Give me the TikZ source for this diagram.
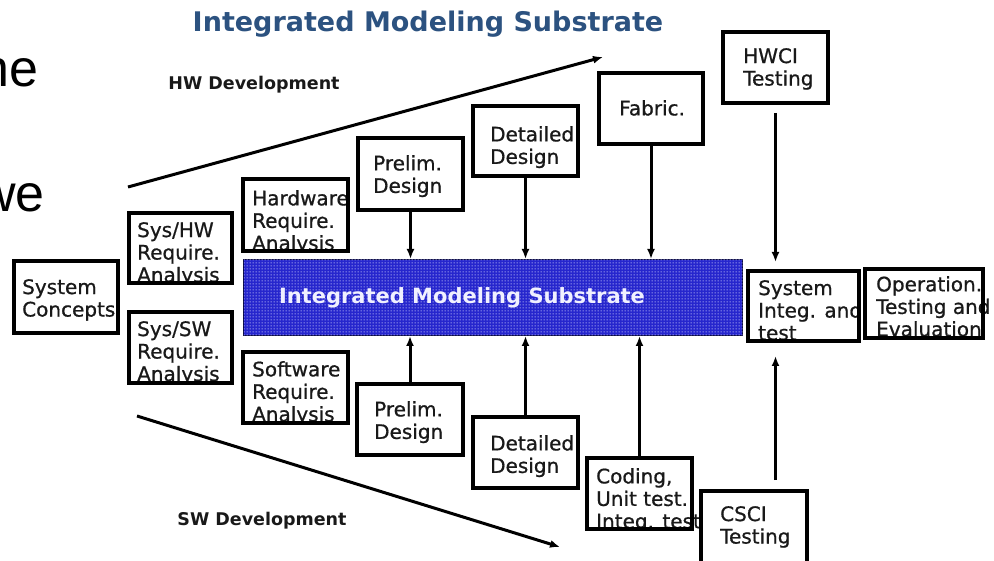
\documentclass[tikz,border=0pt]{standalone}
\usepackage{fontspec}
\setmainfont{DejaVu Sans}
\newfontfamily\slidefont{Liberation Sans}
\newfontfamily\boxfont[FakeBold=0.8]{DejaVu Sans}
\usetikzlibrary{arrows.meta,patterns,calc}

\definecolor{titleblue}{RGB}{44,82,128}
\definecolor{barblue}{RGB}{38,38,205}
\definecolor{bardot}{RGB}{215,215,255}
\definecolor{barline}{RGB}{10,10,70}
\definecolor{ink}{RGB}{25,25,25}

% screen of light dots over the substrate bar
\pgfdeclarepatternformonly{bardots}{\pgfpointorigin}{\pgfpoint{3pt}{3pt}}{\pgfpoint{3pt}{3pt}}%
  {\pgfpathcircle{\pgfpoint{1.5pt}{1.5pt}}{0.7pt}\pgfusepath{fill}}

\tikzset{
  boxfill/.style={fill=white, inner sep=0pt, outer sep=0pt, anchor=north west},
  boxline/.style={draw=black, line width=3.2pt},
  boxtext/.style={font=\boxfont\fontsize{20}{22.5}\selectfont, text=ink, align=left,
                  inner sep=0pt, anchor=north west},
  flow/.style={line width=3pt, -{Latex[length=10pt,width=8pt]}},
  devlabel/.style={font=\bfseries\fontsize{17.5}{20}\selectfont, text=ink, anchor=base},
  slidetext/.style={font=\slidefont\fontsize{52}{56}\selectfont, text=black,
                    anchor=base east, inner sep=0pt},
}

% process box: name, x, y (top left), width, height, text offset x, y, text
% the text is clipped at the bottom edge of the box, then the frame is drawn on top
\newcommand\procbox[8]{%
  \node[boxfill, minimum width=#4pt, minimum height=#5pt] (#1) at (#2,#3) {};
  \begin{scope}
    \clip ($(#1.north west)+(-2,0)$) rectangle ($(#1.south east)+(20,0)$);
    \node[boxtext] at ($(#1.north west)+(#6,#7)$) {#8};
  \end{scope}
  \draw[boxline] (#1.north west) rectangle (#1.south east);
}

\begin{document}
\begin{tikzpicture}[x=1pt, y=-1pt]
  \useasboundingbox (0,0) rectangle (994,561);
  \fill[white] (0,0) rectangle (994,561);

  % slide text cut at the left edge
  \node[slidetext] (sl1) at (39,87) {ne};
  \node[slidetext] (sl2) at (45,212) {we};

  % heading
  \node[font=\bfseries\fontsize{27}{30}\selectfont, text=titleblue, anchor=base]
    (title) at (428,32) {Integrated Modeling Substrate};

  % development directions
  \node[devlabel] (hwlab) at (254,90) {HW Development};
  \node[devlabel] (swlab) at (262,525) {SW Development};
  \coordinate (hwS) at (128,187);
  \coordinate (hwE) at (603,57);
  \coordinate (swS) at (137,416);
  \coordinate (swE) at (560,547);
  \draw[flow] (hwS) -- (hwE);
  \draw[flow] (swS) -- (swE);

  % central substrate bar
  \node[anchor=north west, minimum width=499pt, minimum height=76pt, inner sep=0pt,
        fill=barblue, draw=barline, line width=1pt,
        postaction={pattern=bardots, pattern color=bardot}] (ims) at (243,259) {};
  \node[font=\bfseries\fontsize{21}{24}\selectfont, text={rgb,255:red,240;green,240;blue,255}]
    (imstext) at (462,298) {Integrated Modeling Substrate};

  % process boxes
  \procbox{sc}{14}{261}{104}{72}{8}{18}{System\\Concepts}
  \procbox{syshw}{129}{213}{103}{70}{8}{9}{Sys/HW\\Require.\\Analysis}
  \procbox{syssw}{129}{312}{103}{71}{8}{9}{Sys/SW\\Require.\\Analysis}
  \procbox{hwreq}{243}{179}{105}{72}{9}{11}{Hardware\\Require.\\Analysis}
  \procbox{swreq}{243}{352}{105}{71}{9}{9}{Software\\Require.\\Analysis}
  \procbox{hwprelim}{358}{138}{105}{72}{15}{17}{Prelim.\\Design}
  \procbox{hwdetail}{473}{106}{105}{70}{17}{20}{Detailed\\Design}
  \procbox{fabric}{599}{73}{104}{71}{20}{27}{Fabric.}
  \procbox{hwci}{723}{32}{105}{71}{20}{16}{HWCI\\Testing}
  \procbox{sysint}{748}{271}{111}{70}{10}{9}{System\\Integ. and\\test}
  \procbox{optest}{865}{269}{118}{69}{11}{7}{Operation.\\Testing and\\Evaluation}
  \procbox{swprelim}{357}{384}{106}{71}{17}{17}{Prelim.\\Design}
  \procbox{swdetail}{473}{417}{105}{71}{17}{18}{Detailed\\Design}
  \procbox{coding}{587}{458}{105}{71}{9}{10}{Coding,\\Unit test.\\Integ. test}
  \procbox{csci}{701}{491}{106}{75}{19}{15}{CSCI\\Testing}

  % hardware side feeds the substrate
  \draw[flow] (hwprelim.south) -- (hwprelim.south |- ims.north);
  \draw[flow] (hwdetail.south) -- (hwdetail.south |- ims.north);
  \draw[flow] (fabric.south) -- (fabric.south |- ims.north);
  \draw[flow, shorten <=10pt, shorten >=9pt] (hwci.south) -- (hwci.south |- sysint.north);

  % software side feeds the substrate
  \draw[flow] (swprelim.north) -- (swprelim.north |- ims.south);
  \draw[flow] (swdetail.north) -- (swdetail.north |- ims.south);
  \draw[flow] (coding.north) -- (coding.north |- ims.south);
  \draw[flow, shorten <=11pt, shorten >=15pt] (csci.north -| hwci.south) -- (hwci.south |- sysint.south);
\end{tikzpicture}
\end{document}
